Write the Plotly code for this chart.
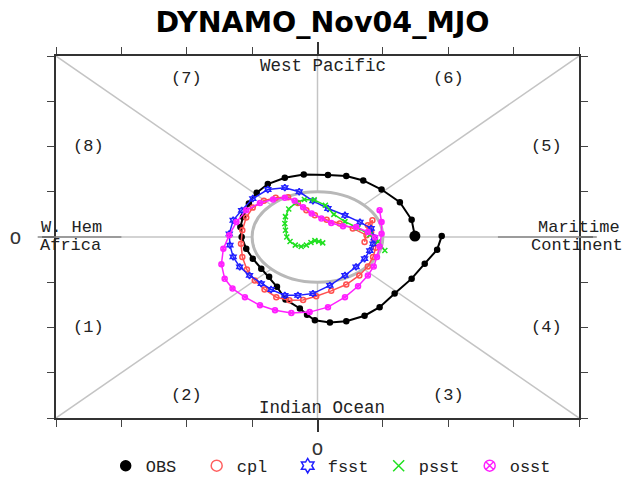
import plotly.graph_objects as go

# ---------------- data (RMM1, RMM2) ----------------
obs_x = [1.49, 1.44, 1.26, 0.98, 0.70, 0.44, 0.16, -0.21, -0.50, -0.76, -0.93, -1.05, -1.14, -1.18,
         -1.16, -1.09, -0.99, -0.86, -0.74, -0.62, -0.49, -0.27, -0.16, -0.04, 0.19, 0.44, 0.72, 0.95,
         1.18, 1.44, 1.64, 1.83, 1.90]
obs_y = [0.02, 0.38, 0.77, 1.05, 1.25, 1.35, 1.37, 1.38, 1.31, 1.17, 0.98, 0.74, 0.44, 0.22,
         0.00, -0.26, -0.48, -0.70, -0.88, -1.10, -1.38, -1.58, -1.72, -1.84, -1.89, -1.86, -1.74, -1.55,
         -1.25, -0.92, -0.59, -0.28, 0.02]

cpl_x = [0.75, 0.54, 0.34, 0.14, -0.04, -0.17, -0.30, -0.45, -0.64, -0.82, -0.99, -1.09, -1.15, -1.17,
         -1.15, -1.08, -0.96, -0.81, -0.63, -0.43, -0.22, -0.02, 0.21, 0.44, 0.64, 0.77, 0.85, 0.89,
         0.87, 0.82, 0.84, 0.77, 0.72]
cpl_y = [0.04, 0.19, 0.30, 0.38, 0.48, 0.59, 0.75, 0.88, 0.87, 0.80, 0.65, 0.43, 0.15, -0.15,
         -0.44, -0.72, -0.96, -1.16, -1.33, -1.40, -1.39, -1.31, -1.19, -1.05, -0.85, -0.65, -0.44, -0.24,
         -0.07, 0.11, 0.37, 0.26, -0.11]

fsst_x = [0.87, 0.82, 0.65, 0.42, 0.16, -0.07, -0.28, -0.50, -0.76, -0.99, -1.16, -1.29, -1.35, -1.34,
          -1.29, -1.19, -1.04, -0.86, -0.71, -0.50, -0.30, -0.07, 0.19, 0.42, 0.59, 0.72, 0.80, 0.85, 0.87]
fsst_y = [-0.02, 0.19, 0.33, 0.48, 0.63, 0.80, 1.00, 1.09, 1.05, 0.85, 0.59, 0.37, 0.07, -0.18,
          -0.44, -0.66, -0.85, -1.03, -1.16, -1.29, -1.29, -1.25, -1.07, -0.85, -0.66, -0.48, -0.30, -0.15, -0.02]

psst_x = [1.03, 0.93, 0.80, 0.62, 0.42, 0.25, 0.12, -0.05, -0.20, -0.33, -0.44, -0.49, -0.50, -0.49,
          -0.47, -0.42, -0.34, -0.25, -0.17, -0.10, -0.04, 0.02, 0.08]
psst_y = [-0.30, -0.10, 0.05, 0.20, 0.34, 0.50, 0.70, 0.82, 0.83, 0.76, 0.62, 0.45, 0.30, 0.15,
          0.00, -0.10, -0.18, -0.21, -0.18, -0.12, -0.08, -0.10, -0.13]

osst_x = [0.88, 0.77, 0.59, 0.39, 0.21, 0.06, -0.09, -0.22, -0.35, -0.50, -0.68, -0.88, -1.09, -1.24,
          -1.35, -1.44, -1.47, -1.42, -1.30, -1.11, -0.88, -0.65, -0.40, -0.12, 0.16, 0.42, 0.62, 0.77,
          0.86, 0.91, 0.95, 0.98, 0.98, 0.95]
osst_y = [-0.01, 0.11, 0.22, 0.24, 0.31, 0.41, 0.52, 0.66, 0.80, 0.87, 0.83, 0.75, 0.59, 0.33,
          0.04, -0.26, -0.60, -0.92, -1.14, -1.33, -1.51, -1.62, -1.68, -1.66, -1.55, -1.33, -1.09, -0.85,
          -0.65, -0.44, -0.21, 0.07, 0.33, 0.59]

phase_labels = ["(1)", "(2)", "(3)", "(4)", "(5)", "(6)", "(7)", "(8)"]
phase_x = [-3.5, -2.0, 2.0, 3.5, 3.5, 2.0, -2.0, -3.5]
phase_y = [-2.0, -3.5, -3.5, -2.0, 2.0, 3.5, 3.5, 2.0]

AX = 4
MONO = "Liberation Mono"
LINEGREY = "#c4c4c4"

fig = go.Figure()

series = [
    ("OBS", obs_x, obs_y, "black", "circle", 5, 2.0),
    ("cpl", cpl_x, cpl_y, "#ff5050", "circle-open", 5, 1.5),
    ("fsst", fsst_x, fsst_y, "#2020ff", "hexagram-open", 5, 1.5),
    ("psst", psst_x, psst_y, "#1fe01f", "x-thin-open", 5, 1.5),
    ("osst", osst_x, osst_y, "#ff20ff", "circle-x-open", 5, 1.5),
]
for name, xs, ys, col, sym, ms, lw in series:
    fig.add_trace(go.Scatter(x=xs, y=ys, mode="lines+markers", name=name, showlegend=False,
                             line=dict(color=col, width=lw),
                             marker=dict(symbol=sym, size=ms, color=col, line=dict(color=col, width=1.5))))

# start point of observations
fig.add_trace(go.Scatter(x=obs_x[:1], y=obs_y[:1], mode="markers", showlegend=False,
                         marker=dict(symbol="circle", size=11, color="black")))

# legend entries (marker only)
leg_syms = [("OBS", "black", "circle", 10), ("cpl", "#ff6060", "circle-open", 11),
            ("fsst", "#2020ff", "hexagram-open", 11), ("psst", "#1fe01f", "x-thin-open", 11),
            ("osst", "#ff20ff", "circle-x-open", 11)]
for name, col, sym, ms in leg_syms:
    fig.add_trace(go.Scatter(x=[None], y=[None], mode="markers", name=name,
                             marker=dict(symbol=sym, size=ms, color=col, line=dict(color=col, width=1.5))))

# ---------------- phase-space furniture ----------------
shapes = []
r = 0.7071
for sx in (-1, 1):
    for sy in (-1, 1):
        shapes.append(dict(type="line", xref="x", yref="y", x0=sx * r, y0=sy * r, x1=sx * AX, y1=sy * AX,
                           line=dict(color=LINEGREY, width=1.5), layer="below"))
for s in (-1, 1):
    shapes.append(dict(type="line", xref="x", yref="y", x0=0, y0=s * 1, x1=0, y1=s * AX,
                       line=dict(color=LINEGREY, width=1.5), layer="below"))
    shapes.append(dict(type="line", xref="x", yref="y", x0=s * 1, y0=0, x1=s * AX, y1=0,
                       line=dict(color=LINEGREY, width=1.5), layer="below"))
shapes.append(dict(type="circle", xref="x", yref="y", x0=-1, y0=-1, x1=1, y1=1,
                   line=dict(color="#b8b8b8", width=3), layer="below"))
# separator lines between the two-line side labels
shapes.append(dict(type="line", xref="paper", yref="y", x0=-0.035, x1=0.125, y0=0, y1=0,
                   line=dict(color="#888888", width=1.5)))
shapes.append(dict(type="line", xref="paper", yref="y", x0=0.845, x1=1.034, y0=0, y1=0,
                   line=dict(color="#888888", width=1.5)))

annotations = []
for t, x, y in zip(phase_labels, phase_x, phase_y):
    annotations.append(dict(text=t, x=x, y=y, xref="x", yref="y", showarrow=False,
                            font=dict(family=MONO, size=17, color="#222")))
side_font = dict(family=MONO, size=17, color="#222")
annotations += [
    dict(text="West Pacific", x=0.08, y=3.77, xref="x", yref="y", showarrow=False,
         font=dict(family=MONO, size=17.5, color="#222")),
    dict(text="Indian Ocean", x=0.07, y=-3.77, xref="x", yref="y", showarrow=False,
         font=dict(family=MONO, size=17.5, color="#222")),
    dict(text="W. Hem", x=-3.77, y=0, xref="x", yref="y", showarrow=False, yanchor="bottom",
         borderpad=0, yshift=-1, font=side_font),
    dict(text="Africa", x=-3.78, y=0, xref="x", yref="y", showarrow=False, yanchor="top",
         borderpad=0, yshift=2, font=side_font),
    dict(text="Maritime", x=3.99, y=0, xref="x", yref="y", showarrow=False, yanchor="bottom",
         borderpad=0, xshift=1, yshift=-1, font=side_font),
    dict(text="Continent", x=3.99, y=0, xref="x", yref="y", showarrow=False, yanchor="top",
         borderpad=0, xshift=-1, yshift=2, font=side_font),
]

axis_common = dict(range=[-AX, AX], showgrid=False, zeroline=False, showline=True, mirror="ticks",
                   linecolor="#333", linewidth=2, ticks="outside", ticklen=12, tickwidth=1.5,
                   tickcolor="#333", tickvals=[0], ticktext=["O"],
                   tickfont=dict(family=MONO, size=19, color="#333"),
                   minor=dict(dtick=1, tick0=0, ticks="outside", ticklen=7, tickwidth=1.2, tickcolor="#444"),
                   fixedrange=True)

fig.update_layout(
    width=630, height=480,
    margin=dict(l=56, r=51, t=56, b=62, autoexpand=False),
    paper_bgcolor="white", plot_bgcolor="white",
    title=dict(text="<b>DYNAMO_Nov04_MJO</b>", x=0.512, xanchor="center", y=0.954, yanchor="middle",
               font=dict(family="DejaVu Sans", size=28.5, color="black")),
    xaxis=dict(axis_common, ticklabelstandoff=0),
    yaxis=dict(axis_common, ticklabelstandoff=17),
    shapes=shapes, annotations=annotations,
    legend=dict(orientation="h", x=0.095, y=-0.133, xanchor="left", yanchor="middle",
                font=dict(family=MONO, size=17, color="#222"), itemwidth=30,
                entrywidth=46, entrywidthmode="pixels", bgcolor="rgba(0,0,0,0)"),
    showlegend=True,
)

fig.write_html("out.html", config={"displayModeBar": False},
               post_script="document.body.style.margin='0px';")
